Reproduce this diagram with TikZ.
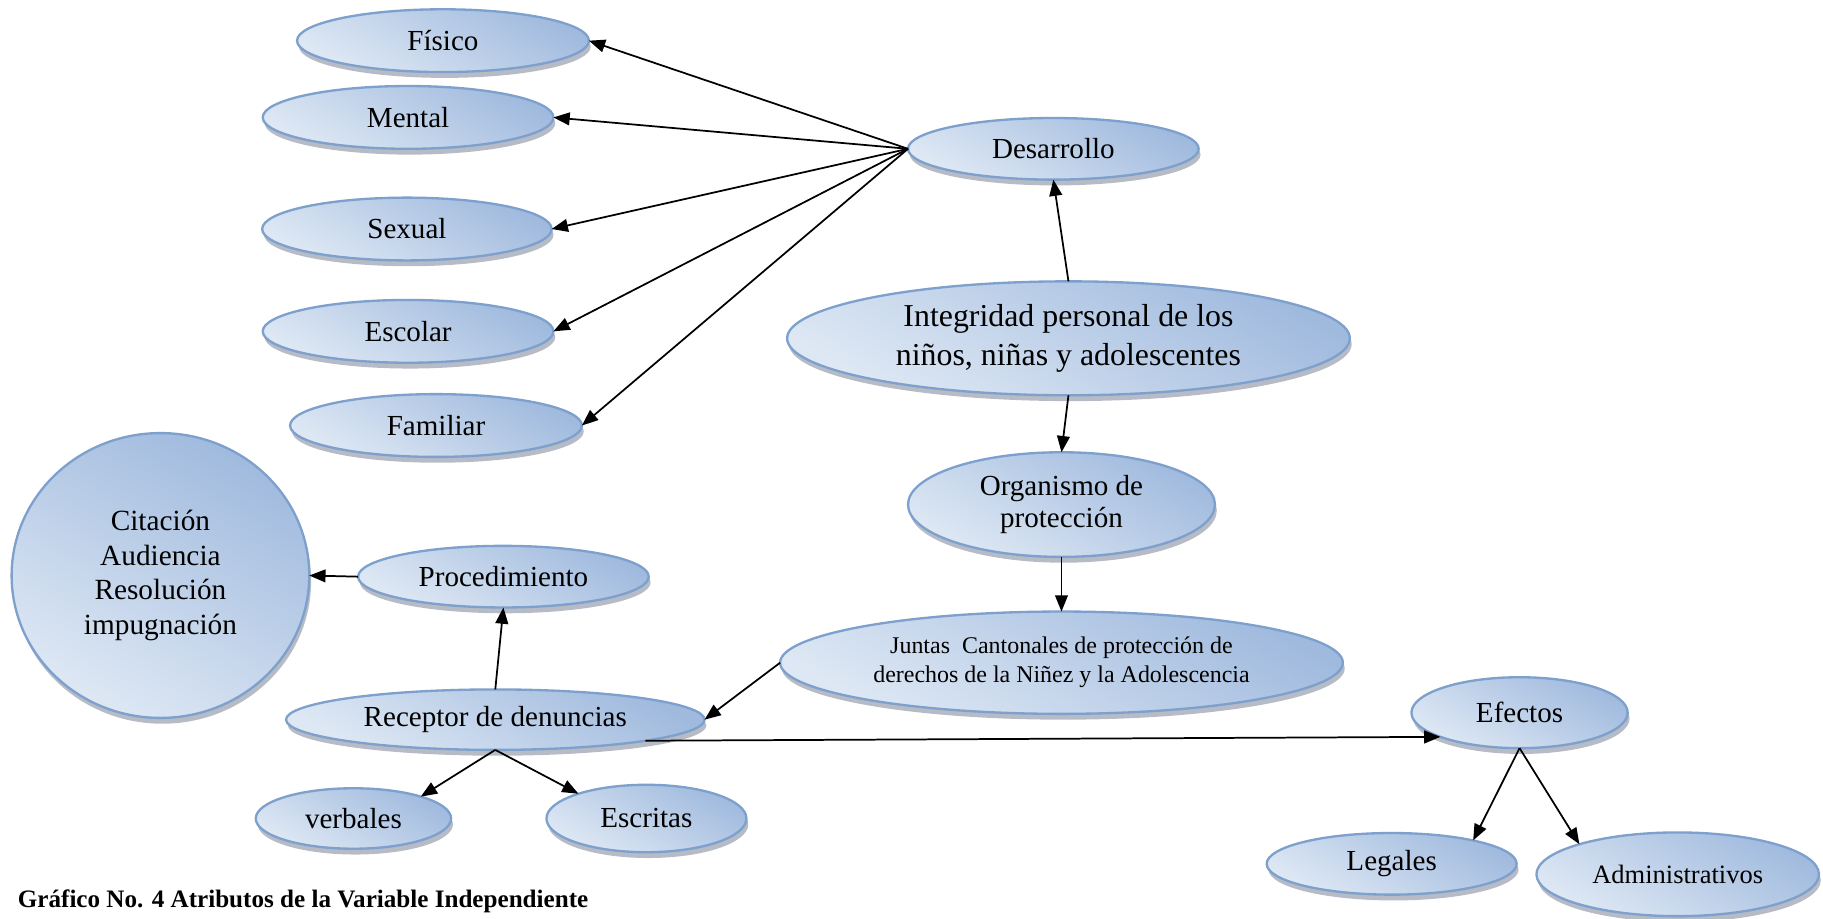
\documentclass[tikz,border=0pt]{standalone}
\usepackage{fontspec}
\setmainfont{Liberation Serif}
\usepackage{xcolor}
\usepackage{tikz}
\usetikzlibrary{arrows.meta, shapes.geometric, shadows}

\definecolor{ovalline}{RGB}{125,160,205}
\definecolor{ovaldark}{RGB}{160,186,222}
\definecolor{ovallight}{RGB}{222,232,244}
\definecolor{ovalshadow}{RGB}{110,120,140}

\begin{document}
\begin{tikzpicture}[x=0.5pt, y=0.5pt,
    oval/.style={ellipse, draw=ovalline, line width=1pt, top color=ovaldark, bottom color=ovallight,
        shading angle=-30, inner sep=0pt, outer sep=0pt, align=center, font=\fontsize{12.5}{14}\selectfont,
        drop shadow={shadow xshift=0.8pt, shadow yshift=-2.5pt, fill=ovalshadow, opacity=0.5}},
    link/.style={-{Triangle[length=7pt, width=5.5pt]}, line width=0.75pt}]
    \useasboundingbox (0,0) rectangle (1568,-790);

    % Desarrollo and its branches
    \node (fis) at (381,-35) [oval, minimum width=125.5pt, minimum height=27pt] {Físico};
    \node (men) at (351,-101) [oval, minimum width=125pt, minimum height=27pt] {Mental};
    \node (sex) at (350,-197) [oval, minimum width=124.5pt, minimum height=27pt] {Sexual};
    \node (escl) at (351,-285) [oval, minimum width=125pt, minimum height=27pt] {Escolar};
    \node (fam) at (375,-366) [oval, minimum width=125.5pt, minimum height=27pt] {Familiar};
    \node (des) at (906,-128) [oval, minimum width=125pt, minimum height=26.5pt] {Desarrollo};
    \foreach \t in {fis, men, sex, escl, fam} {
        \draw[link] (des.west) -- (\t.east);
    }

    % central column
    \node (int) at (919,-291) [oval, minimum width=242pt, minimum height=49pt,
        font=\fontsize{13.7}{17}\selectfont] {Integridad personal de los\\niños, niñas y adolescentes};
    \node (org) at (913,-434) [oval, minimum width=132pt, minimum height=45pt] {Organismo de\\protección};
    \node (jun) at (913,-570) [oval, minimum width=242pt, minimum height=44pt,
        font=\fontsize{10.3}{12.5}\selectfont] {Juntas\ \ Cantonales de protección de\\derechos de la Niñez y la Adolescencia};
    \draw[link] (int.north) -- (des.south);
    \draw[link] (int.south) -- (org.north);
    \draw[link] (org.south) -- (jun.north);

    % receptor and procedure
    \node (cit) at (138,-495) [oval, minimum width=128pt, minimum height=122.5pt,
        font=\fontsize{12.6}{15}\selectfont] {Citación\\Audiencia\\Resolución\\impugnación};
    \node (pro) at (433,-496) [oval, minimum width=125pt, minimum height=26.5pt] {Procedimiento};
    \node (rec) at (426,-619) [oval, minimum width=180pt, minimum height=26pt] {Receptor de denuncias};
    \node (ver) at (304,-704) [oval, minimum width=84pt, minimum height=26pt] {verbales};
    \node (escr) at (556,-704) [oval, minimum width=86pt, minimum height=29pt] {Escritas};
    \draw[link] (jun.west) -- (rec.east);
    \draw[link] (rec.north) -- (pro.south);
    \draw[link] (pro.west) -- (cit.east);
    \draw[link] (rec.south) -- (ver.18);
    \draw[link] (rec.south) -- (escr.160);

    % effects
    \node (efe) at (1307,-613) [oval, minimum width=93pt, minimum height=30.5pt] {Efectos};
    \node (leg) at (1197,-743) [oval, minimum width=107.5pt, minimum height=26.5pt] {Legales};
    \node (adm) at (1443,-752) [oval, minimum width=121.5pt, minimum height=36pt,
        font=\fontsize{11.4}{13}\selectfont] {Administrativos};
    \draw[link] (rec.-8) -- (efe.197);
    \draw[link] (efe.south) -- (leg.16);
    \draw[link] (efe.south) -- (adm.163);

    \node (cap) at (15,-775) [anchor=west, inner sep=0pt, font=\fontsize{10.8}{13}\selectfont\bfseries]
        {Gráfico No. 4 Atributos de la Variable Independiente};
\end{tikzpicture}
\end{document}
